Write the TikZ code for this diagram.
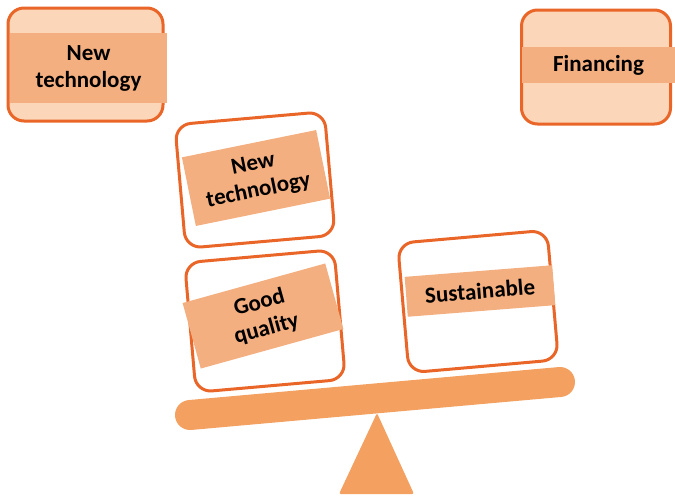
\documentclass[tikz,border=0pt]{standalone}
\usepackage{fontspec}
\setmainfont{Carlito}
\usepackage{xcolor}

\definecolor{rim}{RGB}{233,102,40}
\definecolor{pale}{RGB}{251,214,184}
\definecolor{strip}{RGB}{244,175,128}
\definecolor{plank}{RGB}{243,160,96}

\begin{document}
\begin{tikzpicture}
  [x=1pt,y=-1pt,
   box/.style={draw=rim,line width=3pt,rounded corners=16pt,inner sep=0pt},
   tag/.style={fill=strip,inner sep=0pt,align=center,
     font=\bfseries\fontsize{23}{27}\selectfont}]
  \useasboundingbox (0,0) rectangle (675,496);

  % the two boxes waiting at the top
  \node[box,fill=pale,minimum width=155pt,minimum height=113pt] (1) at (85.5,64.5) {};
  \node[tag,minimum width=157pt,minimum height=70pt] (1t) at (88.5,68) {New\\technology};
  \node[box,fill=pale,minimum width=149pt,minimum height=114pt] (2) at (596,67) {};
  \node[tag,minimum width=153pt,minimum height=36pt] (2t) at (598.5,65) {Financing};

  % the scale: beam and pivot
  \draw[plank,line width=30pt,line cap=round] (190,415) -- (560,382);
  \fill[plank,rounded corners=2pt] (377,413) -- (414,494) -- (339,494) -- cycle;

  % boxes sitting on the beam
  \node[box,fill=white,rotate=5,minimum width=150pt,minimum height=124pt] (3) at (255,180) {};
  \node[tag,rotate=11.5,minimum width=137pt,minimum height=70pt] (3t) at (256,178) {New\\technology};
  \node[box,fill=white,rotate=5,minimum width=150pt,minimum height=130pt] (4) at (265,321) {};
  \node[tag,rotate=15.5,minimum width=148pt,minimum height=68pt] (4t) at (263,316) {Good\\quality};
  \node[box,fill=white,rotate=5,minimum width=150pt,minimum height=130pt] (5) at (478,301.5) {};
  \node[tag,rotate=4.5,minimum width=148pt,minimum height=40pt] (5t) at (480,291) {Sustainable};

\end{tikzpicture}
\end{document}
